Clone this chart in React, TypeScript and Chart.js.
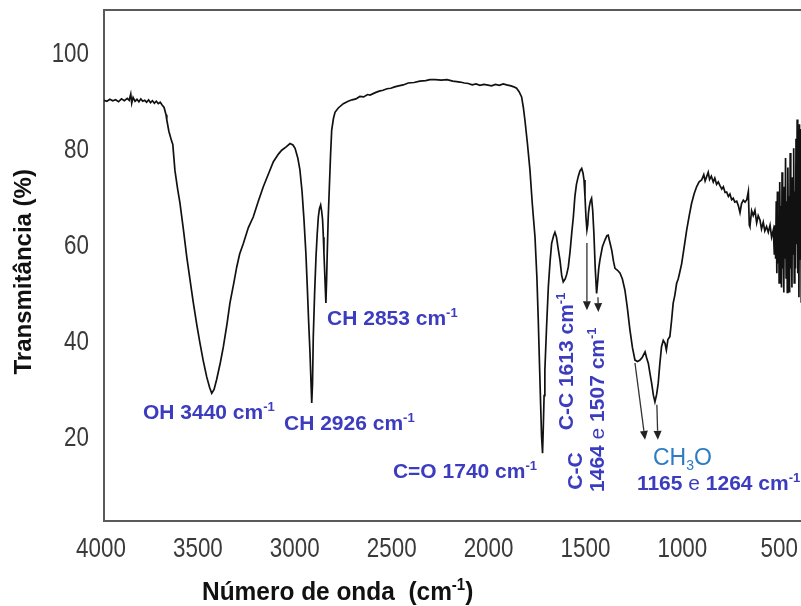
import React, { useEffect, useRef } from 'react';
import { Chart, registerables } from 'chart.js';

Chart.register(...registerables);

// ---- Spectrum data (wavenumber in cm-1, transmittance in %) ----
const wavenumber = [
  4000, 3985, 3970, 3955, 3940, 3925, 3910, 3895, 3880, 3870,
  3862, 3857, 3850, 3840, 3830, 3820, 3810, 3800, 3790, 3780,
  3770, 3760, 3750, 3740, 3730, 3720, 3710, 3700, 3690, 3680,
  3676, 3665, 3651, 3645, 3634, 3620, 3608, 3590, 3573, 3555,
  3539, 3520, 3505, 3488, 3470, 3455, 3444, 3432, 3419, 3400,
  3384, 3365, 3350, 3330, 3315, 3300, 3281, 3255, 3230, 3205,
  3178, 3150, 3126, 3100, 3083, 3060, 3040, 3025, 3014, 3000,
  2989, 2978, 2968, 2958, 2951, 2944, 2937, 2932, 2928, 2924,
  2920, 2913, 2906, 2900, 2894, 2888, 2882, 2877, 2872, 2868,
  2865, 2860, 2855, 2851, 2848, 2843, 2837, 2831, 2825, 2816,
  2808, 2791, 2765, 2740, 2720, 2700, 2680, 2660, 2640, 2627,
  2600, 2580, 2560, 2540, 2520, 2500, 2480, 2456, 2430, 2400,
  2370, 2340, 2318, 2290, 2260, 2230, 2200, 2180, 2163, 2140,
  2120, 2100, 2080, 2060, 2040, 2025, 2000, 1980, 1960, 1940,
  1922, 1900, 1885, 1871, 1858, 1845, 1836, 1828, 1815, 1802,
  1790, 1776, 1766, 1759, 1753, 1747, 1742, 1737, 1733, 1729,
  1725, 1716, 1707, 1698, 1690, 1680, 1673, 1665, 1656, 1647,
  1638, 1630, 1620, 1612, 1604, 1595, 1586, 1578, 1570, 1562,
  1553, 1544, 1535, 1528, 1523, 1518, 1513, 1508, 1504, 1500,
  1496, 1490, 1484, 1478, 1472, 1465, 1458, 1452, 1447, 1441,
  1428, 1415, 1405, 1398, 1390, 1380, 1371, 1363, 1350, 1337,
  1325, 1312, 1300, 1286, 1273, 1260, 1247, 1234, 1222, 1208,
  1200, 1191, 1182, 1174, 1165, 1157, 1148, 1140, 1132, 1123,
  1114, 1105, 1098, 1090, 1080, 1071, 1063, 1054, 1045, 1037,
  1030, 1019, 1006, 993, 980, 968, 955, 942, 929, 916,
  905, 898, 890, 882, 875, 866, 856, 848, 839, 830,
  822, 812, 804, 795, 787, 778, 770, 761, 753, 745,
  735, 726, 718, 710, 701, 692, 683, 675, 670, 667,
  658, 650, 641, 632, 624, 615, 607, 598, 590, 581,
  572, 563, 555, 546, 541, 538, 534, 531, 528, 525,
  522, 519, 516, 513, 510, 507, 504, 501, 498, 495,
  492, 489, 486, 483, 480, 477, 474, 471, 468, 465,
  462, 459, 456, 453, 450, 447, 444, 441, 438, 435,
  432, 429, 426, 423, 420, 417, 414, 411, 408, 405,
  402, 399, 396,
];

const transmittance = [
  90.0, 89.8, 90.2, 89.9, 90.1, 89.7, 90.3, 89.9, 90.4, 90.0,
  91.3, 89.4, 90.6, 89.8, 90.2, 89.7, 90.3, 89.8, 90.0, 89.6,
  90.1, 89.5, 89.9, 89.4, 89.8, 89.3, 89.6, 89.0, 88.5, 87.0,
  85.9, 83.5, 81.5, 80.8, 75.4, 71.5, 68.6, 63.0, 57.4, 52.3,
  47.8, 43.0, 39.5, 35.8, 32.4, 30.2, 29.0, 29.8, 31.8, 35.3,
  38.7, 43.5, 47.8, 52.0, 55.3, 58.0, 60.2, 63.5, 65.7, 68.8,
  72.0, 74.8, 77.2, 78.8, 79.6, 80.3, 81.0, 80.7, 80.0, 78.0,
  75.5, 71.0, 65.1, 58.0, 51.2, 44.0, 37.4, 31.5, 27.0, 31.0,
  40.8, 50.0, 57.4, 62.0, 65.7, 67.5, 68.2, 67.0, 65.1, 61.5,
  58.2, 53.0, 47.8, 53.0, 58.2, 65.5, 72.0, 78.5, 83.8, 86.2,
  87.5, 88.4, 89.3, 89.8, 90.1, 90.3, 90.8, 90.7, 91.2, 91.1,
  91.6, 91.9, 92.1, 92.4, 92.5, 92.8, 93.0, 93.2, 93.6, 93.7,
  94.0, 94.1, 94.3, 94.3, 94.2, 94.3, 94.0, 93.9, 93.8, 93.6,
  93.5, 93.2, 93.4, 93.1, 93.3, 93.2, 93.0, 93.3, 93.1, 93.4,
  93.2, 93.0, 92.8, 92.5, 91.8, 90.7, 88.5, 85.9, 81.0, 75.5,
  68.5, 61.6, 53.0, 44.2, 35.5, 26.9, 20.0, 16.5, 22.0, 28.5,
  33.8, 43.0, 51.2, 56.5, 60.2, 61.8, 62.5, 61.5, 59.0, 56.7,
  53.5, 52.2, 52.8, 53.8, 55.3, 58.5, 62.5, 65.7, 70.0, 72.5,
  74.1, 75.3, 75.8, 74.8, 73.4, 70.0, 65.7, 63.0, 64.0, 66.5,
  67.8, 69.0, 69.6, 67.0, 62.3, 55.0, 49.8, 52.5, 55.0, 56.7,
  59.5, 60.9, 61.8, 61.9, 60.5, 58.8, 56.5, 55.0, 54.6, 54.0,
  52.8, 50.5, 47.0, 42.2, 38.5, 35.9, 35.6, 35.9, 36.5, 37.6,
  36.4, 35.2, 33.0, 31.1, 28.6, 27.2, 28.8, 31.1, 35.0, 38.7,
  40.0, 39.4, 38.0, 40.2, 40.8, 44.2, 47.7, 49.5, 51.9, 52.8,
  54.0, 56.0, 59.5, 63.0, 66.0, 68.5, 70.5, 72.0, 73.0, 73.4,
  74.5, 73.2, 74.1, 75.0, 73.5, 74.2, 73.0, 73.8, 72.5, 73.0,
  72.3, 71.5, 72.0, 70.8, 70.9, 70.0, 70.5, 69.3, 69.6, 68.8,
  69.0, 68.0, 66.6, 68.5, 69.2, 68.8, 69.3, 71.0, 64.0, 63.7,
  67.0, 66.0, 67.1, 64.5, 66.0, 65.1, 63.2, 64.6, 62.8, 63.7,
  62.5, 64.0, 61.5, 63.0, 58.0, 64.0, 57.0, 69.0, 54.0, 71.0,
  56.0, 66.0, 52.0, 73.0, 58.0, 68.0, 51.0, 75.0, 55.0, 66.0,
  50.0, 72.0, 57.0, 78.0, 53.0, 69.0, 50.0, 76.0, 56.0, 70.0,
  50.0, 79.0, 55.0, 67.0, 51.0, 74.0, 58.0, 80.0, 52.0, 71.0,
  55.0, 82.0, 60.0, 86.0, 54.0, 77.0, 49.0, 85.0, 57.0, 84.0,
  48.0, 82.0, 52.0,
];

// ---- Axes ----
const xTickValues = [4000, 3500, 3000, 2500, 2000, 1500, 1000, 500];
const xTickLabels = ['4000', '3500', '3000', '2500', '2000', '1500', '1000', '500'];
const yTickValues = [20, 40, 60, 80, 100];
const yTickLabels = ['20', '40', '60', '80', '100'];
const xAxisMin = 331;
const xAxisMax = 4000;
const yAxisMin = 2.4;
const yAxisMax = 108.8;

// ---- Arrows (wavenumber / transmittance of start and end) ----
const arrowFromWn = [1508, 1451, 1260, 1147];
const arrowFromT = [60.3, 49.0, 35.3, 26.6];
const arrowToWn = [1508, 1449, 1208, 1142];
const arrowToT = [46.3, 45.9, 19.3, 19.3];

// ---- Annotation texts ----
type Part = { t: string; bold?: boolean; sup?: boolean; sub?: boolean };
type Note = { wn: number; t: number; vertical: boolean; color: string; size: number; parts: Part[] };

const BLUE = '#3c3cbf';
const LIGHTBLUE = '#2c7cc4';
const FAMILY = "'Liberation Sans', Arial, Helvetica, sans-serif";

const notes: Note[] = [
  { wn: 3799, t: 25.3, vertical: false, color: BLUE, size: 21, parts: [{ t: 'OH 3440 cm', bold: true }, { t: '-1', bold: true, sup: true }] },
  { wn: 3071, t: 23.0, vertical: false, color: BLUE, size: 21, parts: [{ t: 'CH 2926 cm', bold: true }, { t: '-1', bold: true, sup: true }] },
  { wn: 2849, t: 44.7, vertical: false, color: BLUE, size: 21, parts: [{ t: 'CH 2853 cm', bold: true }, { t: '-1', bold: true, sup: true }] },
  { wn: 2509, t: 13.0, vertical: false, color: BLUE, size: 21, parts: [{ t: 'C=O 1740 cm', bold: true }, { t: '-1', bold: true, sup: true }] },
  { wn: 1621, t: 21.3, vertical: true, color: BLUE, size: 21, parts: [{ t: 'C-C 1613 cm', bold: true }, { t: '-1', bold: true, sup: true }] },
  { wn: 1570, t: 8.9, vertical: true, color: BLUE, size: 21, parts: [{ t: 'C-C', bold: true }] },
  { wn: 1461, t: 8.45, vertical: true, color: BLUE, size: 21, parts: [{ t: '1464 ', bold: true }, { t: 'e' }, { t: ' 1507 cm', bold: true }, { t: '-1', bold: true, sup: true }] },
  { wn: 1167, t: 15.7, vertical: false, color: LIGHTBLUE, size: 23, parts: [{ t: 'CH' }, { t: '3', sub: true }, { t: 'O' }] },
  { wn: 1250, t: 10.5, vertical: false, color: BLUE, size: 21, parts: [{ t: '1165 ', bold: true }, { t: 'e' }, { t: ' 1264 cm', bold: true }, { t: '-1', bold: true, sup: true }] },
];

const yTitle = 'Transmitância (%)';
const xTitleParts: Part[] = [{ t: 'Número de onda  (cm', bold: true }, { t: '-1', bold: true, sup: true }, { t: ')', bold: true }];

function drawParts(ctx: CanvasRenderingContext2D, parts: Part[], size: number) {
  let x = 0;
  for (const p of parts) {
    const small = p.sup || p.sub;
    const s = small ? Math.round(size * 0.6) : size;
    ctx.font = `${p.bold ? 'bold ' : ''}${s}px ${FAMILY}`;
    const dy = p.sup ? -size * 0.38 : p.sub ? size * 0.2 : 0;
    ctx.fillText(p.t, x, dy);
    x += ctx.measureText(p.t).width;
  }
  return x;
}

const customPlugin = {
  id: 'irCustom',
  beforeDatasetsDraw(chart: any) {
    const { ctx, chartArea: a } = chart;
    ctx.save();
    ctx.strokeStyle = '#5a5a5a';
    ctx.lineWidth = 2;
    ctx.strokeRect(a.left, a.top, a.right - a.left, a.bottom - a.top);
    ctx.restore();
  },
  afterDraw(chart: any) {
    const { ctx, chartArea: a } = chart;
    const xs = chart.scales.x;
    const ys = chart.scales.y;
    ctx.save();
    ctx.textAlign = 'left';
    ctx.textBaseline = 'alphabetic';

    // tick labels (condensed look)
    ctx.fillStyle = '#3a3a3a';
    ctx.font = `28px ${FAMILY}`;
    xTickValues.forEach((v, i) => {
      const px = xs.getPixelForValue(v) - 3;
      ctx.save();
      ctx.translate(px, a.bottom + 36);
      ctx.scale(0.8, 1);
      ctx.textAlign = 'center';
      ctx.fillText(xTickLabels[i], 0, 0);
      ctx.restore();
    });
    yTickValues.forEach((v, i) => {
      const py = ys.getPixelForValue(v);
      ctx.save();
      ctx.translate(a.left - 15, py + 10);
      ctx.scale(0.8, 1);
      ctx.textAlign = 'right';
      ctx.fillText(yTickLabels[i], 0, 0);
      ctx.restore();
    });

    // axis titles
    ctx.fillStyle = '#111';
    ctx.save();
    ctx.translate(31, (a.top + a.bottom) / 2 + 6 + 103);
    ctx.rotate(-Math.PI / 2);
    ctx.font = `bold 24px ${FAMILY}`;
    ctx.fillText(yTitle, 0, 0);
    ctx.restore();

    ctx.save();
    ctx.translate(202, 600);
    ctx.scale(0.94, 1);
    drawParts(ctx, xTitleParts, 26);
    ctx.restore();

    // arrows
    ctx.strokeStyle = '#333';
    ctx.fillStyle = '#222';
    ctx.lineWidth = 1.3;
    for (let i = 0; i < arrowFromWn.length; i++) {
      const x1 = xs.getPixelForValue(arrowFromWn[i]);
      const y1 = ys.getPixelForValue(arrowFromT[i]);
      const x2 = xs.getPixelForValue(arrowToWn[i]);
      const y2 = ys.getPixelForValue(arrowToT[i]);
      const ang = Math.atan2(y2 - y1, x2 - x1);
      const hl = 9;
      const hw = 4;
      const bx = x2 - hl * Math.cos(ang);
      const by = y2 - hl * Math.sin(ang);
      ctx.beginPath();
      ctx.moveTo(x1, y1);
      ctx.lineTo(bx, by);
      ctx.stroke();
      ctx.beginPath();
      ctx.moveTo(x2, y2);
      ctx.lineTo(bx + hw * Math.sin(ang), by - hw * Math.cos(ang));
      ctx.lineTo(bx - hw * Math.sin(ang), by + hw * Math.cos(ang));
      ctx.closePath();
      ctx.fill();
    }

    // annotation texts
    for (const n of notes) {
      const px = xs.getPixelForValue(n.wn);
      const py = ys.getPixelForValue(n.t);
      ctx.fillStyle = n.color;
      ctx.save();
      if (n.vertical) {
        ctx.translate(px, py);
        ctx.rotate(-Math.PI / 2);
        ctx.translate(0, n.size * 0.36);
      } else {
        ctx.translate(px, py + n.size * 0.36);
      }
      drawParts(ctx, n.parts, n.size);
      ctx.restore();
    }
    ctx.restore();
  },
};

export default function App() {
  const ref = useRef<HTMLCanvasElement>(null);
  useEffect(() => {
    if (!ref.current) return;
    const points = wavenumber.map((w, i) => ({ x: w, y: transmittance[i] }));
    const chart = new Chart(ref.current, {
      type: 'line',
      data: {
        datasets: [
          {
            data: points,
            borderColor: '#111',
            borderWidth: 1.7,
            pointRadius: 0,
            fill: false,
            tension: 0,
          },
        ],
      },
      options: {
        animation: false,
        responsive: false,
        devicePixelRatio: 1,
        layout: { padding: { top: 10, right: 15, left: 0, bottom: 0 } },
        plugins: { legend: { display: false }, tooltip: { enabled: false } },
        scales: {
          x: {
            type: 'linear',
            reverse: true,
            min: xAxisMin,
            max: xAxisMax,
            grid: { display: false },
            border: { display: false },
            ticks: { display: false },
            afterBuildTicks: (s: any) => {
              s.ticks = xTickValues.map((v) => ({ value: v }));
            },
            afterFit: (s: any) => {
              s.height = 85;
            },
          },
          y: {
            type: 'linear',
            min: yAxisMin,
            max: yAxisMax,
            grid: { display: false },
            border: { display: false },
            ticks: { display: false },
            afterBuildTicks: (s: any) => {
              s.ticks = yTickValues.map((v) => ({ value: v }));
            },
            afterFit: (s: any) => {
              s.width = 104;
            },
          },
        },
      },
      plugins: [customPlugin],
    } as any);
    return () => chart.destroy();
  }, []);
  return (
    <div style={{ position: 'fixed', left: 0, top: 0, width: 801, height: 606, overflow: 'hidden', background: '#fff' }}>
      <canvas ref={ref} width={830} height={606} style={{ display: 'block', width: 830, height: 606 }} />
    </div>
  );
}
